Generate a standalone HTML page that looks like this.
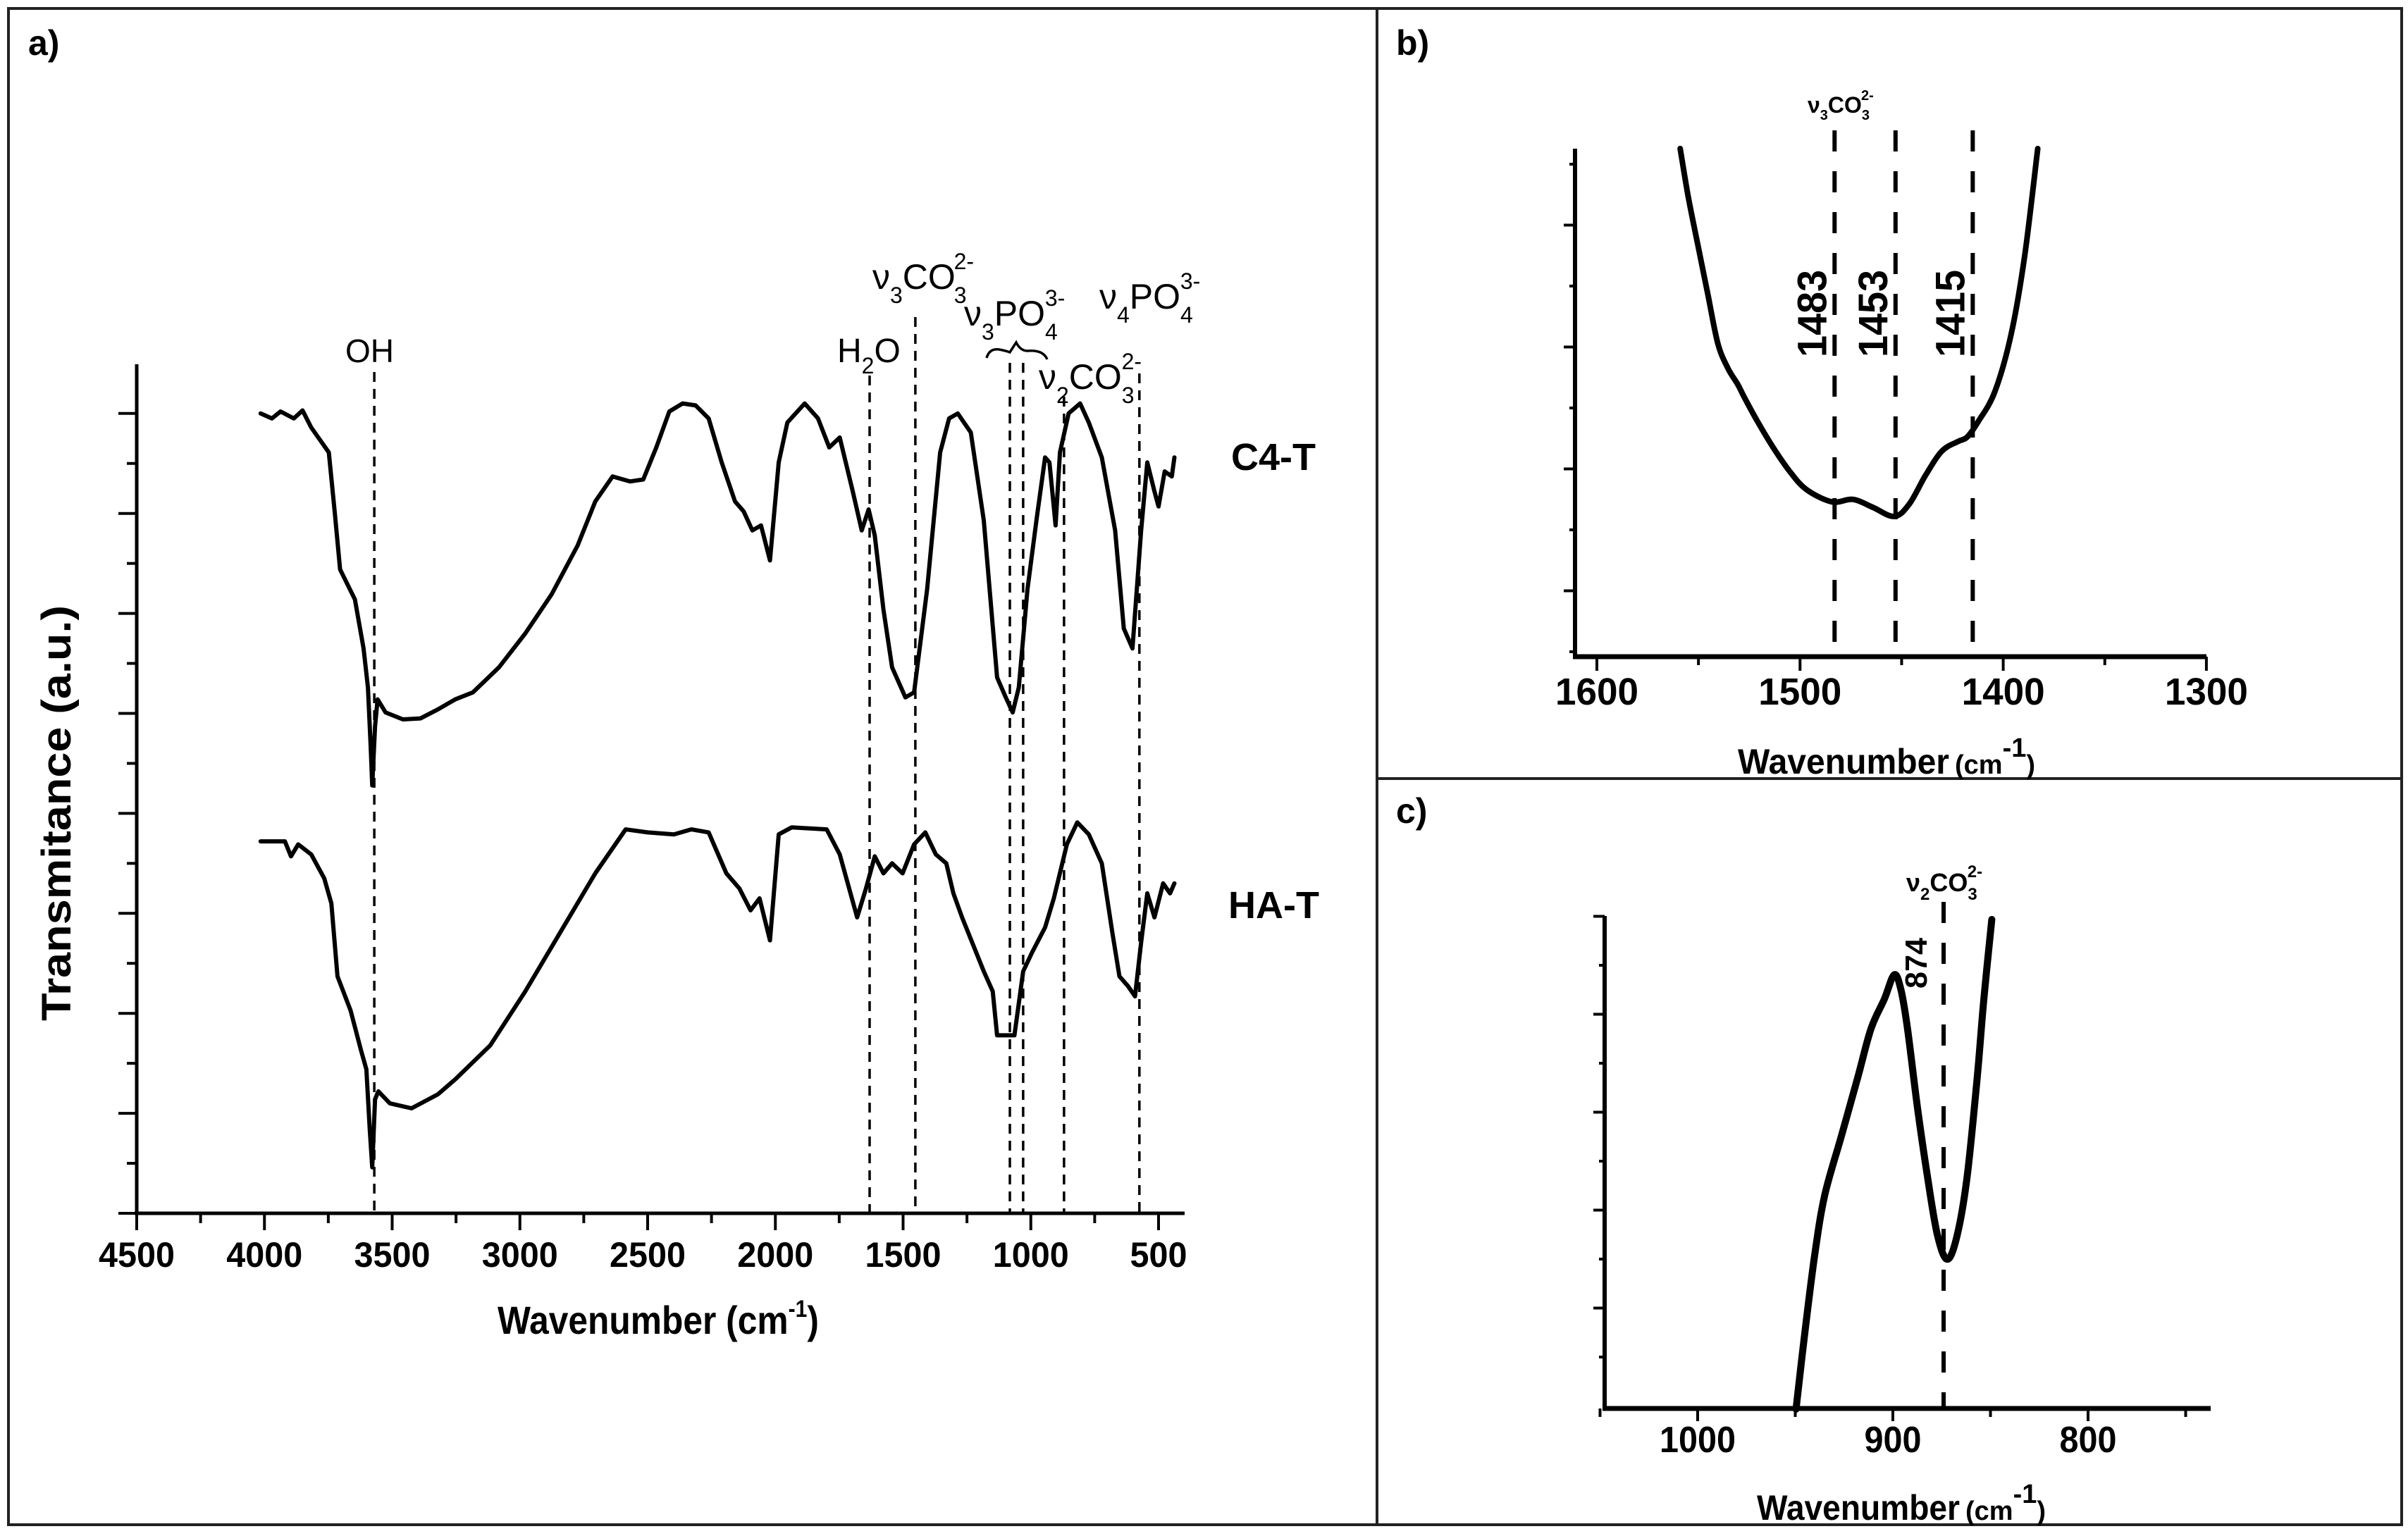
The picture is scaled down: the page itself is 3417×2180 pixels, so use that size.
<!DOCTYPE html>
<html><head><meta charset="utf-8"><style>
html,body{margin:0;padding:0;background:#fff;}
svg{display:block;}
text{font-family:"Liberation Sans",sans-serif;fill:#000;}
</style></head><body>
<svg id="fig" width="3417" height="2180" viewBox="0 0 3417 2180" xmlns="http://www.w3.org/2000/svg">
<rect x="12" y="12" width="3396" height="2152" fill="none" stroke="#222" stroke-width="4"/>
<line x1="1954" y1="12" x2="1954" y2="2164" stroke="#222" stroke-width="4"/>
<line x1="1954" y1="1105" x2="3408" y2="1105" stroke="#222" stroke-width="4"/>
<text x="40" y="78" font-size="50" font-weight="bold" font-family="DejaVu Sans,sans-serif">a)</text>
<text x="1981" y="78" font-size="50" font-weight="bold" font-family="DejaVu Sans,sans-serif">b)</text>
<text x="1981" y="1168" font-size="50" font-weight="bold" font-family="DejaVu Sans,sans-serif">c)</text>
<g id="pa"></g>
<g id="pb"></g>
<g id="pc"></g>
</svg>
<script>
// ---------- Panel a data ----------
const aXTicks = [4500,4000,3500,3000,2500,2000,1500,1000,500];
const aXTickLabels = ["4500","4000","3500","3000","2500","2000","1500","1000","500"];
const c4tWave = [4015,3971,3937,3885,3851,3817,3748,3725,3704,3646,3612,3595,3584,3578,3567,3557,3526,3458,3389,3321,3253,3184,3082,2979,2876,2774,2705,2637,2569,2517,2466,2415,2363,2312,2261,2210,2158,2124,2090,2056,2021,1987,1953,1885,1833,1789,1748,1697,1662,1635,1611,1577,1543,1491,1457,1406,1355,1320,1286,1235,1184,1132,1098,1071,1047,1013,978,944,927,903,886,852,807,773,722,670,636,602,568,544,516,500,476,448,438];
const c4tTrans = [8.00,7.95,8.02,7.95,8.03,7.86,7.61,7.02,6.44,6.14,5.65,5.26,4.67,4.28,4.87,5.14,5.01,4.94,4.95,5.04,5.14,5.21,5.46,5.80,6.19,6.68,7.12,7.37,7.32,7.34,7.66,8.02,8.10,8.08,7.95,7.51,7.12,7.02,6.83,6.88,6.53,7.51,7.91,8.10,7.95,7.66,7.76,7.22,6.83,7.04,6.78,6.04,5.46,5.16,5.21,6.24,7.61,7.95,8.00,7.81,6.93,5.36,5.16,5.01,5.26,6.24,6.93,7.56,7.51,6.88,7.61,8.00,8.10,7.91,7.56,6.83,5.85,5.65,6.83,7.51,7.22,7.07,7.42,7.37,7.56];
const hatWave = [4015,3920,3896,3868,3817,3766,3738,3714,3663,3622,3601,3588,3578,3567,3554,3509,3424,3321,3253,3116,2979,2842,2705,2586,2500,2397,2329,2261,2192,2141,2097,2062,2021,1987,1936,1799,1748,1680,1645,1611,1577,1543,1502,1457,1413,1372,1331,1303,1269,1184,1149,1132,1064,1030,995,944,910,859,818,773,722,681,653,619,592,568,544,516,482,455,438];
const hatTrans = [3.72,3.72,3.57,3.69,3.59,3.35,3.10,2.37,2.03,1.63,1.44,0.85,0.46,1.14,1.22,1.10,1.05,1.19,1.34,1.68,2.22,2.81,3.40,3.84,3.81,3.79,3.84,3.81,3.40,3.25,3.03,3.15,2.73,3.79,3.86,3.84,3.59,2.96,3.25,3.57,3.40,3.50,3.40,3.69,3.81,3.59,3.50,3.20,2.96,2.42,2.22,1.78,1.78,2.42,2.61,2.86,3.15,3.69,3.91,3.79,3.50,2.81,2.37,2.27,2.17,2.71,3.20,2.96,3.30,3.20,3.30];
const aPeakWave = [3570,1631,1452,1082,1030,870,575];
const aPeakTop = [528,533,450,515,515,563,530];
// ---------- Panel b data ----------
const bXTicks = [1600,1500,1400,1300];
const bXTickLabels = ["1600","1500","1400","1300"];
const bWave = [1559,1555.1,1550.3,1545.4,1540.5,1535.6,1530.7,1527.5,1521.0,1512.9,1504.8,1496.7,1484.3,1473.9,1464.2,1453.7,1446.3,1438.2,1430.1,1422.0,1417.7,1412.2,1404.1,1396.0,1389.4,1383.0];
const bTrans = [8.42,7.64,6.83,6.02,5.21,4.80,4.53,4.32,3.92,3.47,3.08,2.79,2.59,2.63,2.50,2.35,2.55,3.03,3.43,3.59,3.66,3.92,4.41,5.37,6.66,8.42];
const bPeaks = [1483,1453,1415];
const bPeakLabels = ["1483","1453","1415"];
// ---------- Panel c data ----------
const cXTicks = [1000,900,800];
const cXTickLabels = ["1000","900","800"];
const cWave = [949.6,945.1,940.0,934.9,926.5,918.0,911.2,904.4,899.3,895.9,892.5,887.4,882.3,877.2,872.1,867.0,861.9,856.8,853.4,849.3];
const cTrans = [0,1.56,3.16,4.37,5.56,6.77,7.77,8.37,8.87,8.57,7.77,6.16,4.76,3.56,3.06,3.56,4.76,6.77,8.37,10.0];
const cPeaks = [874];
const cPeakLabels = ["874"];

const NS = "http://www.w3.org/2000/svg";
function mk(parent, tag, attrs){ const e=document.createElementNS(NS,tag); for(const k in attrs) e.setAttribute(k,attrs[k]); parent.appendChild(e); return e; }
function linePath(xs, ys){ return xs.map((x,i)=>(i?'L':'M')+x.toFixed(1)+' '+ys[i].toFixed(1)).join(' '); }
function smoothPath(xs, ys){
  let d='M'+xs[0]+' '+ys[0];
  for(let i=0;i<xs.length-1;i++){
    const x0=xs[Math.max(0,i-1)],y0=ys[Math.max(0,i-1)],x1=xs[i],y1=ys[i],x2=xs[i+1],y2=ys[i+1],x3=xs[Math.min(xs.length-1,i+2)],y3=ys[Math.min(xs.length-1,i+2)];
    d+=' C'+(x1+(x2-x0)/6).toFixed(1)+' '+(y1+(y2-y0)/6).toFixed(1)+' '+(x2-(x3-x1)/6).toFixed(1)+' '+(y2-(y3-y1)/6).toFixed(1)+' '+x2.toFixed(1)+' '+y2.toFixed(1);
  }
  return d;
}

// ===== Panel a =====
(function(){
  const g=document.getElementById('pa');
  const X0=194, Y0=1722, YT=517, XR=1681;
  const xS=w=>X0+(4500-w)*0.3625;
  const yS=v=>Y0-v*141.9;
  // axes
  let ax=mk(g,'line',{x1:X0,y1:YT,x2:X0,y2:Y0,stroke:'#000','stroke-width':5});
   
  ax=mk(g,'line',{x1:X0-3,y1:Y0,x2:XR,y2:Y0,stroke:'#000','stroke-width':5});
   
  for(let i=0;i<=16;i++){
    const y=Y0-i*70.95; if(y<YT) break;
    const t=mk(g,'line',{x1:X0-(i%2?0:0)-(i%2?14:26)+0,y1:y,x2:X0,y2:y,stroke:'#000','stroke-width':4});
     
  }
  aXTicks.forEach((w,i)=>{
    const x=xS(w);
    const t=mk(g,'line',{x1:x,y1:Y0,x2:x,y2:Y0+24,stroke:'#000','stroke-width':4});
     
    if(i<aXTicks.length-1){ const m=mk(g,'line',{x1:xS(w-250),y1:Y0,x2:xS(w-250),y2:Y0+14,stroke:'#000','stroke-width':4});
        }
    const lab=mk(g,'text',{x:x,y:Y0+76,'font-size':50,'font-weight':'bold','text-anchor':'middle',textLength:aXTickLabels[i].length*27,lengthAdjust:'spacingAndGlyphs'});
    lab.textContent=aXTickLabels[i];
     
  });
  // dashed reference lines
  aPeakWave.forEach((w,i)=>{
    const l=mk(g,'line',{x1:xS(w),y1:aPeakTop[i],x2:xS(w),y2:Y0,stroke:'#000','stroke-width':3.5,'stroke-dasharray':'14 10'});
     
  });
  // series
  let p=mk(g,'path',{d:linePath(c4tWave.map(xS),c4tTrans.map(yS)),fill:'none',stroke:'#000','stroke-width':6,'stroke-linejoin':'round','stroke-linecap':'round'});
   
  p=mk(g,'path',{d:linePath(hatWave.map(xS),hatTrans.map(yS)),fill:'none',stroke:'#000','stroke-width':6,'stroke-linejoin':'round','stroke-linecap':'round'});
   
})();

// ===== Panel b =====
(function(){
  const g=document.getElementById('pb');
  const X0=2235, Y0=932, YT=211, XR=3131;
  const xS=w=>2266+(1600-w)*2.883;
  const yS=v=>935-v*86;
  let ax=mk(g,'line',{x1:X0,y1:YT,x2:X0,y2:Y0,stroke:'#000','stroke-width':6});
   
  ax=mk(g,'line',{x1:X0-3,y1:Y0,x2:XR,y2:Y0,stroke:'#000','stroke-width':7});
   
  for(let i=0;i<9;i++){
    const y=925-i*86.5; const major=(i%2===1);
    const t=mk(g,'line',{x1:X0-(major?16:8),y1:y,x2:X0,y2:y,stroke:'#000','stroke-width':4});
     
  }
  bXTicks.forEach((w,i)=>{
    const x=xS(w);
    const t=mk(g,'line',{x1:x,y1:Y0,x2:x,y2:Y0+20,stroke:'#000','stroke-width':4});
     
    if(i<bXTicks.length-1){ const m=mk(g,'line',{x1:xS(w-50),y1:Y0,x2:xS(w-50),y2:Y0+12,stroke:'#000','stroke-width':4});
        }
    const lab=mk(g,'text',{x:x,y:Y0+68,'font-size':54,'font-weight':'bold','text-anchor':'middle',textLength:118,lengthAdjust:'spacingAndGlyphs'});
    lab.textContent=bXTickLabels[i];
     
  });
  bPeaks.forEach((w,i)=>{
    const x=xS(w);
    const l=mk(g,'line',{x1:x,y1:185,x2:x,y2:Y0,stroke:'#000','stroke-width':6,'stroke-dasharray':'30 28'});
     
    const t=mk(g,'text',{x:0,y:0,'font-size':58,'font-weight':'bold','text-anchor':'middle',textLength:124,lengthAdjust:'spacingAndGlyphs',transform:'translate('+(x-34+22)+',445) rotate(-90)'});
    t.textContent=bPeakLabels[i];
     
  });
  const p=mk(g,'path',{d:smoothPath(bWave.map(xS),bTrans.map(yS)),fill:'none',stroke:'#000','stroke-width':8,'stroke-linecap':'round'});
   
})();

// ===== Panel c =====
(function(){
  const g=document.getElementById('pc');
  const X0=2277, Y0=1999, YT=1300, XR=3137;
  const xS=w=>2409+(1000-w)*2.77;
  const yS=v=>2000-v*69.5;
  let ax=mk(g,'line',{x1:X0,y1:YT,x2:X0,y2:Y0,stroke:'#000','stroke-width':6});
   
  ax=mk(g,'line',{x1:X0-3,y1:Y0,x2:XR,y2:Y0,stroke:'#000','stroke-width':7});
   
  for(let i=0;i<10;i++){
    const y=1926-i*69.5; const major=(i%2===1);
    const t=mk(g,'line',{x1:X0-(major?16:8),y1:y,x2:X0,y2:y,stroke:'#000','stroke-width':4});
     
  }
  [1050,950,850,750].forEach(w=>{ const m=mk(g,'line',{x1:xS(w),y1:Y0,x2:xS(w),y2:Y0+12,stroke:'#000','stroke-width':4});
      });
  cXTicks.forEach((w,i)=>{
    const x=xS(w);
    const t=mk(g,'line',{x1:x,y1:Y0,x2:x,y2:Y0+18,stroke:'#000','stroke-width':4});
     
    const lab=mk(g,'text',{x:x,y:Y0+62,'font-size':52,'font-weight':'bold','text-anchor':'middle',textLength:cXTickLabels[i].length*27,lengthAdjust:'spacingAndGlyphs'});
    lab.textContent=cXTickLabels[i];
     
  });
  cPeaks.forEach((w,i)=>{
    const x=xS(w);
    const l=mk(g,'line',{x1:x,y1:1280,x2:x,y2:Y0,stroke:'#000','stroke-width':6,'stroke-dasharray':'30 28'});
     
    const t=mk(g,'text',{x:0,y:0,'font-size':44,'font-weight':'bold','text-anchor':'middle',textLength:72,lengthAdjust:'spacingAndGlyphs',transform:'translate('+(x-24)+',1367) rotate(-90)'});
    t.textContent=cPeakLabels[i];
     
  });
  const p=mk(g,'path',{d:smoothPath(cWave.map(xS),cTrans.map(yS)),fill:'none',stroke:'#000','stroke-width':10,'stroke-linecap':'round'});
   
})();
</script>
<svg width="0" height="0" style="position:absolute"></svg>
<script>
// static labels appended after dynamic content
const fig=document.getElementById('fig');
fig.insertAdjacentHTML('beforeend',`
<text x="0" y="0" transform="translate(100,1154) rotate(-90)" font-size="58" font-weight="bold" text-anchor="middle" textLength="590" lengthAdjust="spacingAndGlyphs">Transmitance (a.u.)</text>
<text x="706" y="1893" font-size="56" font-weight="bold" textLength="456" lengthAdjust="spacingAndGlyphs">Wavenumber (cm<tspan dy="-24" font-size="34">-1</tspan><tspan dy="24">)</tspan></text>
<text x="1747" y="667" font-size="54" font-weight="bold" font-family="DejaVu Sans,sans-serif">C4-T</text>
<text x="1743" y="1303" font-size="54" font-weight="bold" font-family="DejaVu Sans,sans-serif">HA-T</text>
<text x="490" y="514" font-size="46">OH</text>
<text x="1188" y="514" font-size="48">H<tspan dy="16" font-size="32">2</tspan><tspan dy="-16">O</tspan></text>
<text x="1238" y="410" font-size="50">&#957;<tspan dy="20" font-size="32">3</tspan><tspan dy="-20">CO</tspan><tspan dx="-2" dy="20" font-size="32">3</tspan><tspan dx="-18" dy="-48" font-size="32">2-</tspan></text>
<text x="1368" y="462" font-size="50">&#957;<tspan dy="20" font-size="32">3</tspan><tspan dy="-20">PO</tspan><tspan dy="20" font-size="32">4</tspan><tspan dx="-18" dy="-48" font-size="32">3-</tspan></text>
<text x="1474" y="552" font-size="50">&#957;<tspan dy="20" font-size="32">2</tspan><tspan dy="-20">CO</tspan><tspan dy="20" font-size="32">3</tspan><tspan dx="-18" dy="-48" font-size="32">2-</tspan></text>
<text x="1560" y="438" font-size="50">&#957;<tspan dy="20" font-size="32">4</tspan><tspan dy="-20">PO</tspan><tspan dy="20" font-size="32">4</tspan><tspan dx="-18" dy="-48" font-size="32">3-</tspan></text>
<path d="M1400 508 Q1404 494 1418 496 Q1428 498 1433 500 Q1438 492 1442 486 Q1448 498 1458 498 Q1480 496 1486 510" fill="none" stroke="#000" stroke-width="3.5"/>
<text x="2466" y="1098" font-size="50" font-weight="bold"><tspan textLength="300" lengthAdjust="spacingAndGlyphs">Wavenumber</tspan><tspan font-size="38" dx="8">(cm</tspan><tspan dy="-24" font-size="38">-1</tspan><tspan dy="24" font-size="38">)</tspan></text>
<text x="2565" y="160" font-size="32" font-weight="bold">&#957;<tspan dy="10" font-size="20">3</tspan><tspan dy="-10">CO</tspan><tspan dy="10" font-size="20">3</tspan><tspan dx="-12" dy="-28" font-size="20">2-</tspan></text>
<text x="2493" y="2157" font-size="50" font-weight="bold"><tspan textLength="288" lengthAdjust="spacingAndGlyphs">Wavenumber</tspan><tspan font-size="38" dx="8">(cm</tspan><tspan dy="-24" font-size="38">-1</tspan><tspan dy="24" font-size="38">)</tspan></text>
<text x="2705" y="1265" font-size="36" font-weight="bold">&#957;<tspan dy="12" font-size="24">2</tspan><tspan dy="-12">CO</tspan><tspan dy="12" font-size="24">3</tspan><tspan dx="-14" dy="-32" font-size="24">2-</tspan></text>
`);
</script>
</body></html>
